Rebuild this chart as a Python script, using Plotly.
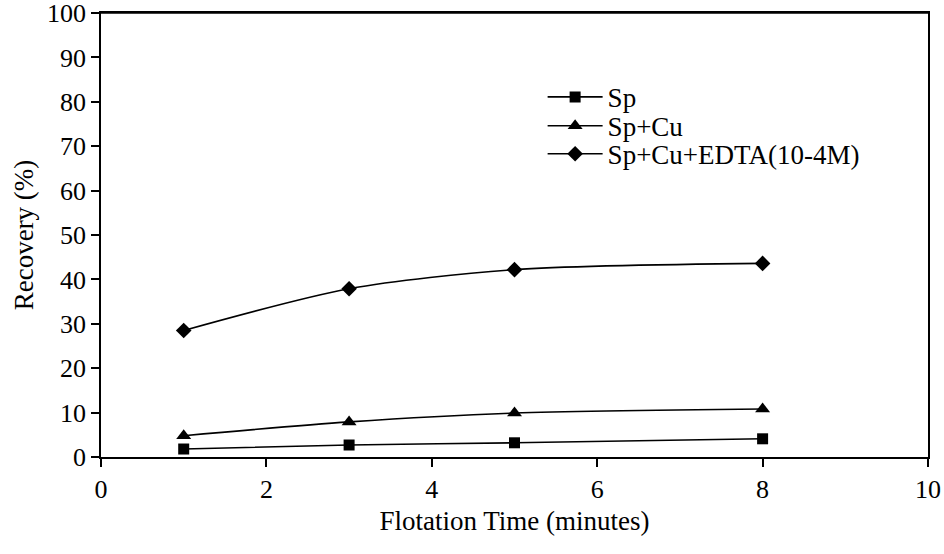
import plotly.graph_objects as go

time_min = [1, 3, 5, 8]
sp = [1.8, 2.7, 3.2, 4.1]
sp_cu = [4.8, 7.9, 9.9, 10.8]
sp_cu_edta = [28.5, 37.9, 42.2, 43.6]

names = ["Sp", "Sp+Cu", "Sp+Cu+EDTA(10-4M)"]
symbols = ["square", "triangle-up", "diamond"]
sizes = [11, 13, 12]
legend_ids = ["legend", "legend2", "legend3"]
legend_rows = [0.810, 0.745, 0.682]

FONT = "Liberation Serif"
F = dict(family=FONT, size=27, color="black")
FT = dict(family=FONT, size=26, color="black")

fig = go.Figure()
for name, ys, sym, sz, lg in zip(names, [sp, sp_cu, sp_cu_edta], symbols, sizes, legend_ids):
    fig.add_trace(go.Scatter(
        x=time_min, y=ys, name=name, mode="lines+markers", legend=lg,
        line=dict(color="black", width=1.6, shape="spline", smoothing=0.8),
        marker=dict(symbol=sym, size=sz, color="black"),
    ))

legend_layout = {}
for lg, yr in zip(legend_ids, legend_rows):
    legend_layout[lg] = dict(x=0.534, y=yr, xanchor="left", yanchor="middle",
                             bgcolor="rgba(0,0,0,0)", font=F, borderwidth=0,
                             itemwidth=55)

fig.update_layout(
    template="none",
    width=944, height=554, autosize=False,
    margin=dict(l=101, r=16, t=13, b=97),
    paper_bgcolor="white", plot_bgcolor="white",
    font=F,
    showlegend=True,
    xaxis=dict(range=[0, 10], dtick=2, tick0=0, showgrid=False, zeroline=False,
               showline=True, linecolor="black", linewidth=1.5, mirror=True,
               ticks="outside", ticklen=8, tickcolor="black", tickwidth=1.5,
               tickfont=FT, automargin=False, ticklabeloverflow="allow",
               title=dict(text="Flotation Time (minutes)", font=F, standoff=8)),
    yaxis=dict(range=[0, 100], dtick=10, tick0=0, showgrid=False, zeroline=False,
               showline=True, linecolor="black", linewidth=1.5, mirror=True,
               ticks="outside", ticklen=8, tickcolor="black", tickwidth=1.5,
               tickfont=FT, automargin=False, ticklabeloverflow="allow",
               title=dict(text="Recovery (%)", font=F, standoff=6)),
    shapes=[dict(type="line", xref="paper", yref="paper", x0=0, x1=1, y0=1, y1=1,
                 line=dict(color="black", width=1.5), layer="above")],
    **legend_layout,
)

fig.write_html("out.html", post_script="document.body.style.margin='0';",
               config={"displayModeBar": False})
